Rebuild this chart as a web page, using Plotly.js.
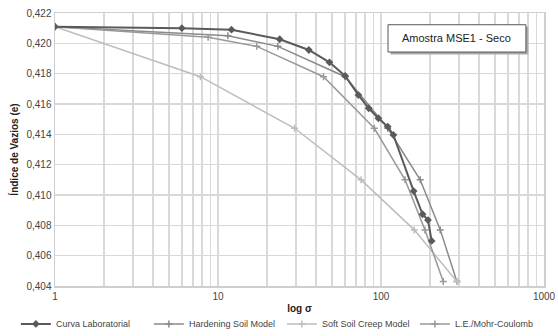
<!DOCTYPE html>
<html><head><meta charset="utf-8">
<script src="https://cdn.plot.ly/plotly-3.0.1.min.js"></script>
<style>body{margin:0;padding:0;background:#fff}#chart{width:558px;height:336px}</style>
</head><body><div id="chart"></div>
<script>
// Curva Laboratorial
const labX = [1, 6.0, 12.1, 23.9, 36.1, 48.3, 60.3, 72.7, 84.1, 96.4, 109.9, 119.1, 158.6, 179.9, 194.2, 204.5];
const labY = [0.4211, 0.4210, 0.4209, 0.42027, 0.41956, 0.41875, 0.41785, 0.41659, 0.41572, 0.41506, 0.41451, 0.41396, 0.41026, 0.40873, 0.40835, 0.40697];
// Hardening Soil Model
const hsX = [1, 11.5, 23.3, 60.3, 110, 174, 231, 292];
const hsY = [0.4211, 0.4205, 0.4198, 0.4178, 0.4144, 0.4110, 0.4077, 0.4043];
// Soft Soil Creep Model
const sscX = [1, 7.8, 29.5, 75.5, 160, 292];
const sscY = [0.4211, 0.4178, 0.4144, 0.4110, 0.4077, 0.4043];
// L.E./Mohr-Coulomb
const mcX = [1, 8.7, 17.3, 44.4, 91, 140.5, 186, 241];
const mcY = [0.4211, 0.4204, 0.4198, 0.4178, 0.4144, 0.4110, 0.4077, 0.4043];

const names = ['Curva Laboratorial', 'Hardening Soil Model', 'Soft Soil Creep Model', 'L.E./Mohr-Coulomb'];
const boxText = 'Amostra MSE1 - Seco';
const xTitle = 'log σ';
const yTitle = 'Índice de Vazios (e)';

const tv = [], tt = [];
for (let d = 1; d <= 100; d *= 10) {
  for (let k = 1; k <= 9; k++) { tv.push(k * d); tt.push(k === 1 ? String(d) : ''); }
}
tv.push(1000); tt.push('1000');

const traces = [
  {x: hsX, y: hsY, name: names[1], mode: 'lines+markers', legendrank: 2,
   line: {color: '#8a8a8a', width: 1.5}, marker: {symbol: 'cross-thin', size: 5, color: '#8a8a8a', line: {color: '#8a8a8a', width: 1.5}}},
  {x: sscX, y: sscY, name: names[2], mode: 'lines+markers', legendrank: 3,
   line: {color: '#bdbdbd', width: 1.5}, marker: {symbol: 'cross-thin', size: 5, color: '#bdbdbd', line: {color: '#bdbdbd', width: 1.5}}},
  {x: mcX, y: mcY, name: names[3], mode: 'lines+markers', legendrank: 4,
   line: {color: '#999999', width: 1.5}, marker: {symbol: 'cross-thin', size: 5, color: '#999999', line: {color: '#999999', width: 1.5}}},
  {x: labX, y: labY, name: names[0], mode: 'lines+markers', legendrank: 1,
   line: {color: '#5a5a5a', width: 2}, marker: {symbol: 'diamond', size: 6, color: '#5a5a5a'}}
];

const layout = {
  width: 558, height: 336,
  margin: {l: 55, r: 14, t: 13, b: 50, autoexpand: false},
  paper_bgcolor: '#fff', plot_bgcolor: '#fff',
  separators: ',.',
  font: {family: 'Liberation Sans, Arial, sans-serif', size: 10, color: '#333'},
  showlegend: true,
  legend: {orientation: 'h', x: -0.08, xanchor: 'left', y: -0.139, yanchor: 'middle',
    font: {size: 9, color: '#444'}, traceorder: 'normal', itemwidth: 30, tracegroupgap: 0,
    entrywidth: 88, entrywidthmode: 'pixels'},
  xaxis: {type: 'log', range: [0, 3], tickvals: tv, ticktext: tt,
    showgrid: true, gridcolor: '#d9d9d9', gridwidth: 1.5,
    showline: true, linecolor: '#cfcfcf', linewidth: 1.5, mirror: true,
    ticks: '', zeroline: false, tickfont: {size: 10, color: '#444'},
    title: {text: xTitle, font: {size: 10, color: '#222', weight: 'bold'}, standoff: 4}},
  yaxis: {range: [0.404, 0.422], dtick: 0.002, tick0: 0.404, tickformat: '.3f',
    showgrid: true, gridcolor: '#d9d9d9', gridwidth: 1.5,
    showline: true, linecolor: '#cfcfcf', linewidth: 1.5, mirror: true,
    ticks: '', zeroline: false, tickfont: {size: 10, color: '#444'},
    title: {text: yTitle, font: {size: 10, color: '#222', weight: 'bold'}, standoff: 6}},
  shapes: [
    {type: 'rect', xref: 'paper', yref: 'paper', x0: 0.686, x1: 0.968, y0: 0.848, y1: 0.950,
     fillcolor: '#aaaaaa', line: {width: 0}, layer: 'above'},
    {type: 'rect', xref: 'paper', yref: 'paper', x0: 0.681, x1: 0.963, y0: 0.857, y1: 0.957,
     fillcolor: '#ffffff', line: {color: '#555', width: 1}, layer: 'above'}
  ],
  annotations: [
    {xref: 'paper', yref: 'paper', x: 0.822, y: 0.907, text: boxText, showarrow: false,
     font: {size: 11, color: '#222'}, xanchor: 'center', yanchor: 'middle'}
  ]
};

Plotly.newPlot('chart', traces, layout, {displayModeBar: false, staticPlot: true});
</script></body></html>
